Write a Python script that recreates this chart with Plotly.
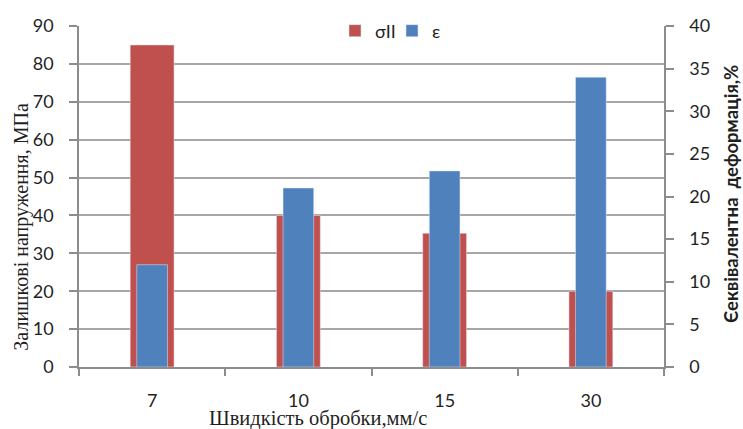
import plotly.graph_objects as go

categories = ["7", "10", "15", "30"]
sigma_vals = [85, 40, 35.3, 20]
eps_vals = [12, 21, 23, 34]
left_ticks = list(range(0, 91, 10))
right_ticks = list(range(0, 41, 5))

W, H = 743, 429
L, R, T, B = 79, 79, 22, 62
pw, ph = W - L - R, H - T - B

def px_x(x):
    return (x - L) / pw

def px_y(y):
    return (H - B - y) / ph

RED = "#C0504D"
BLUE = "#4F81BD"
GRID = "#a6a6a6"
AXIS = "#8c8c8c"
TXT = "#1f1f1f"

fig = go.Figure()
fig.add_trace(go.Bar(x=categories, y=sigma_vals, name="σII", marker_color=RED,
                     width=0.3, yaxis="y"))
fig.add_trace(go.Bar(x=categories, y=eps_vals, name="ε", marker_color=BLUE,
                     width=0.21, yaxis="y2"))

tick_font = dict(family="Lato, Open Sans, sans-serif", size=18, color=TXT)

fig.update_layout(
    width=W, height=H,
    margin=dict(l=L, r=R, t=T, b=B),
    paper_bgcolor="white", plot_bgcolor="white",
    barmode="overlay",
    showlegend=True,
    legend=dict(orientation="h", x=px_x(335), xanchor="left", y=px_y(27), yanchor="middle",
                bgcolor="rgba(0,0,0,0)", font=dict(family="Lato, sans-serif", size=18, color=TXT),
                itemwidth=30, entrywidth=12, entrywidthmode="pixels", tracegroupgap=0),
    xaxis=dict(type="category", range=[-0.5, 3.5], showline=True, linecolor=AXIS, linewidth=1.5,
               ticks="outside", tickson="boundaries", ticklen=7, tickcolor=AXIS, tickwidth=1.5,
               tickfont=tick_font, showgrid=False, ticklabelstandoff=17),
    yaxis=dict(range=[0, 90], tickvals=left_ticks, showline=True, linecolor=AXIS, linewidth=1.5,
               ticks="outside", ticklen=8, tickcolor=AXIS, tickwidth=1.5, tickfont=tick_font,
               showgrid=True, gridcolor=GRID, gridwidth=1.5, zeroline=False,
               ticklabelstandoff=12),
    yaxis2=dict(range=[0, 40], tickvals=right_ticks, overlaying="y", side="right",
                showline=True, linecolor=AXIS, linewidth=1.5, ticks="outside", ticklen=8,
                tickcolor=AXIS, tickwidth=1.5, tickfont=tick_font, showgrid=False,
                zeroline=False, ticklabelstandoff=12),
)

fig.add_annotation(text="Залишкові напруження, МПа", xref="paper", yref="paper",
                   x=px_x(22), y=px_y(225), textangle=-90, showarrow=False,
                   font=dict(family="Liberation Serif, Times New Roman, serif", size=20, color=TXT),
                   xanchor="center", yanchor="middle")
fig.add_annotation(text="<b>Єеквівалентна  деформація,%</b>", xref="paper", yref="paper",
                   x=px_x(731), y=px_y(192), textangle=-90, showarrow=False,
                   font=dict(family="Lato, Open Sans, sans-serif", size=18.5, color=TXT),
                   xanchor="center", yanchor="middle")
fig.add_annotation(text="Швидкість обробки,мм/с", xref="paper", yref="paper",
                   x=px_x(318), y=px_y(419), showarrow=False,
                   font=dict(family="Liberation Serif, Times New Roman, serif", size=20.5, color=TXT),
                   xanchor="center", yanchor="middle")

fig.write_html("out.html")
